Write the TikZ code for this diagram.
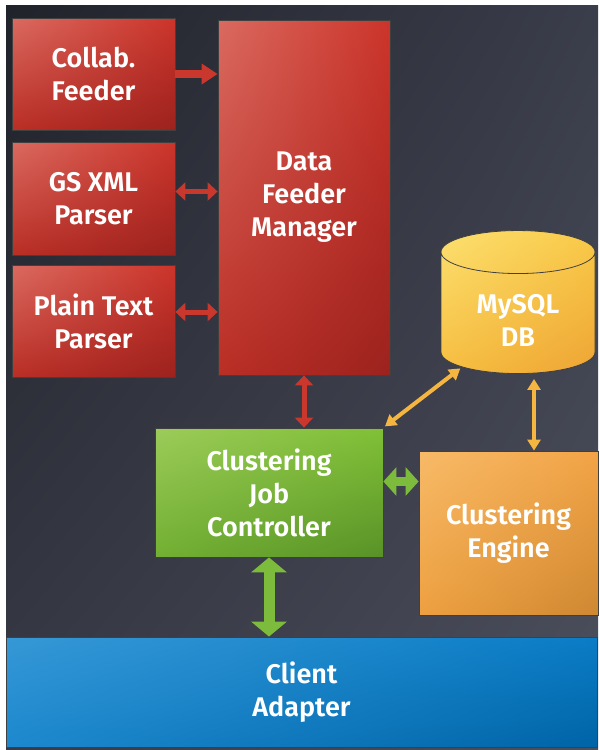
\documentclass[tikz,border=0pt]{standalone}
\usepackage{fontspec}
\setmainfont{Fira Sans}[BoldFont={Fira Sans SemiBold}]
\usetikzlibrary{positioning,shapes.geometric,arrows.meta,shadings}

\definecolor{arrred}{HTML}{C9372D}
\definecolor{arrgreen}{HTML}{7DBB3C}
\definecolor{arryellow}{HTML}{F4B640}
% box shades
\definecolor{redA}{HTML}{DA6A60}\definecolor{redB}{HTML}{CC342A}
\definecolor{redC}{HTML}{BA2E25}\definecolor{redD}{HTML}{9C221E}
\definecolor{grnA}{HTML}{9CCB5A}\definecolor{grnB}{HTML}{80C036}
\definecolor{grnC}{HTML}{72B032}\definecolor{grnD}{HTML}{589228}
\definecolor{orgA}{HTML}{F7BA68}\definecolor{orgB}{HTML}{F3A446}
\definecolor{orgC}{HTML}{EEA040}\definecolor{orgD}{HTML}{CE8832}
\definecolor{ylwA}{HTML}{FCE070}\definecolor{ylwB}{HTML}{F9CA48}
\definecolor{ylwC}{HTML}{F6BE40}\definecolor{ylwD}{HTML}{EEA434}
\definecolor{bluA}{HTML}{3698D6}\definecolor{bluB}{HTML}{0A7CC6}
\definecolor{bluC}{HTML}{1C88CE}\definecolor{bluD}{HTML}{0064A6}
\definecolor{bgA}{HTML}{21232B}\definecolor{bgB}{HTML}{3A3D4A}
\definecolor{bgC}{HTML}{383A46}\definecolor{bgD}{HTML}{4C4F5C}

\begin{document}
\begin{tikzpicture}[
  x=1pt, y=-1pt,
  font=\fontsize{27}{33}\selectfont\bfseries,
  box/.style={
    draw=black!75, line width=0.8pt,
    align=center, text=white, inner sep=0pt,
  },
  redbox/.style={box, upper left=redA, upper right=redB, lower left=redC, lower right=redD},
  greenbox/.style={box, upper left=grnA, upper right=grnB, lower left=grnC, lower right=grnD},
  orangebox/.style={box, upper left=orgA, upper right=orgB, lower left=orgC, lower right=orgD},
  dbcyl/.style={
    box, cylinder, shape border rotate=90, aspect=0.52,
    upper left=ylwA, upper right=ylwB, lower left=ylwC, lower right=ylwD,
  },
  bluebox/.style={box, upper left=bluA, upper right=bluB, lower left=bluC, lower right=bluD},
  redsingle/.style={-{Triangle[width=20pt,length=16pt]}, line width=8pt, color=arrred},
  redboth/.style={{Triangle[width=18pt,length=10pt]}-{Triangle[width=18pt,length=10pt]}, line width=5pt, color=arrred},
  yellowboth/.style={{Triangle[width=13pt,length=11pt]}-{Triangle[width=13pt,length=11pt]}, line width=4pt, color=arryellow},
  greenboth/.style={{Triangle[width=28pt,length=13pt]}-{Triangle[width=28pt,length=13pt]}, line width=9pt, color=arrgreen},
  greenbig/.style={{Triangle[width=35pt,length=15pt]}-{Triangle[width=35pt,length=15pt]}, line width=11pt, color=arrgreen},
]

\useasboundingbox (0,0) rectangle (598,750);
\fill[white] (0,0) rectangle (598,750);
\shade[upper left=bgA, upper right=bgB, lower left=bgC, lower right=bgD] (6,5) rectangle (598,750);

\node[redbox, minimum width=163, minimum height=112] (collab) at (93.5,74) {Collab.\\Feeder};
\node[redbox, minimum width=163, minimum height=113] (gsxml) at (93.5,198.5) {GS XML\\Parser};
\node[redbox, minimum width=163, minimum height=112] (plain) at (93.5,321) {Plain Text\\Parser};
\node[redbox, minimum width=172, minimum height=355] (dfm) at (304,197.5) {Data\\Feeder\\Manager};

\node[dbcyl, minimum width=154, minimum height=143] (db) at (518,313) {\mbox{}\\MySQL\\DB};
\node[greenbox, minimum width=228, minimum height=129] (cjc) at (269,492.5) {Clustering\\Job\\Controller};
\node[orangebox, minimum width=179, minimum height=164] (engine) at (508.5,533) {Clustering\\Engine};
\node[bluebox, minimum width=591, minimum height=110] (client) at (301.5,692) {Client\\Adapter};

\draw[redsingle] (collab.east) -- (collab.east -| dfm.west);
\draw[redboth] ([yshift=7pt]gsxml.east) -- ([yshift=7pt]gsxml.east -| dfm.west);
\draw[redboth] ([yshift=9pt]plain.east) -- ([yshift=9pt]plain.east -| dfm.west);
\draw[redboth] (dfm.south) -- (dfm.south |- cjc.north);

\draw[yellowboth, shorten <=2pt, shorten >=2pt] (db.224) -- (cjc.north east);
\draw[yellowboth, shorten <=5pt] ([xshift=16pt]db.south) -- ([xshift=16pt]db.south |- engine.north);

\draw[greenboth] ([yshift=11pt]cjc.east) -- ([yshift=11pt]cjc.east -| engine.west);
\draw[greenbig] (cjc.south) -- (cjc.south |- client.north);

\end{tikzpicture}
\end{document}
